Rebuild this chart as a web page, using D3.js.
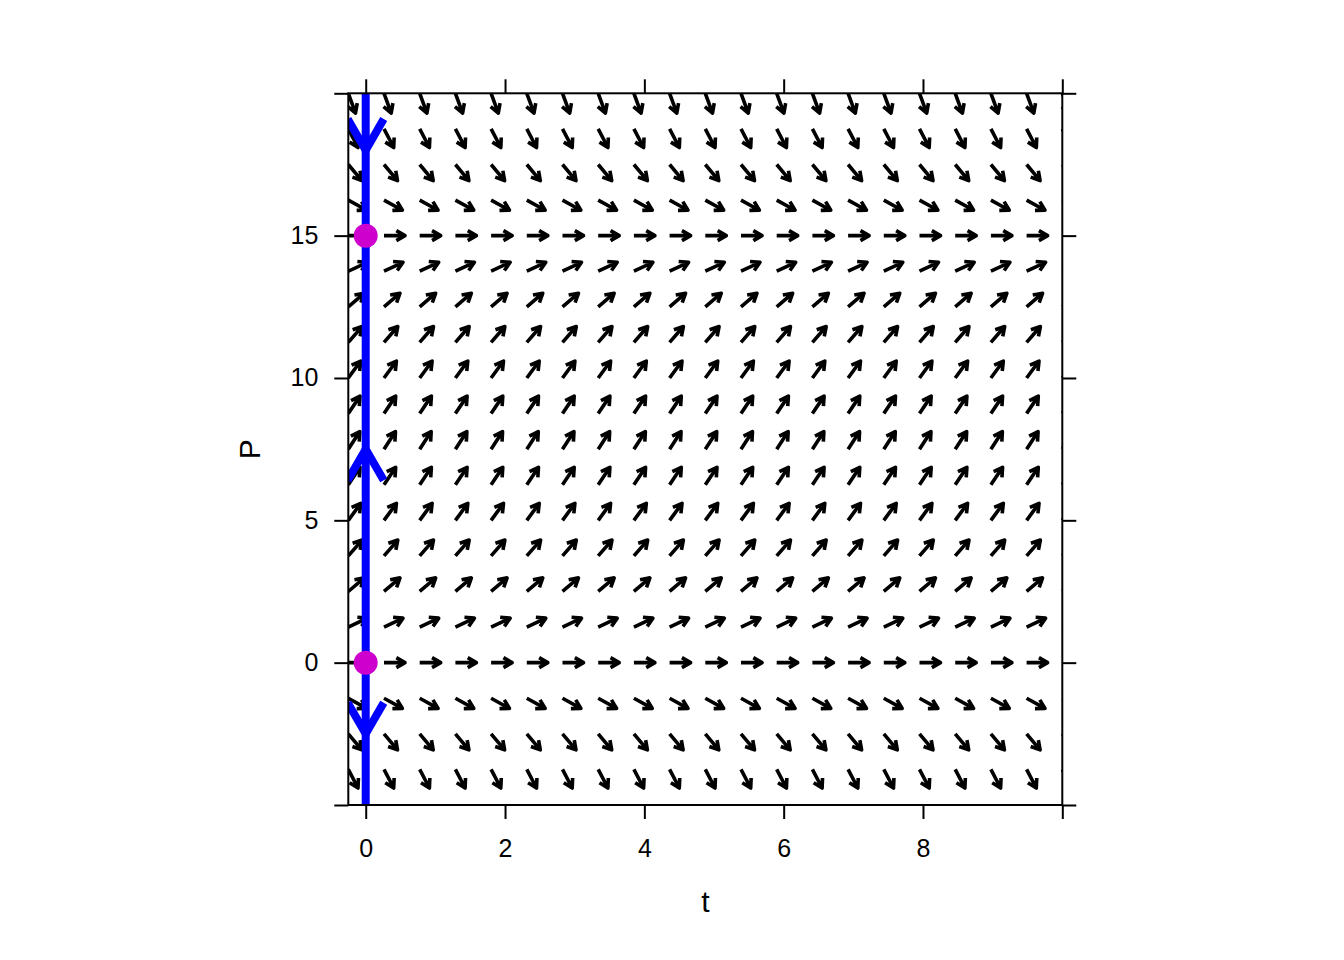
<!DOCTYPE html>
<html><head><meta charset="utf-8">
<script src="https://cdn.jsdelivr.net/npm/d3@7"></script>
<style>body{margin:0;background:#fff} svg{display:block}</style>
</head><body>
<svg id="chart" width="1344" height="960"></svg>
<script>
// grid of the direction field (t columns, P rows)
const tGrid = [-0.25, 0.2625, 0.775, 1.2875, 1.8, 2.3125, 2.825, 3.3375, 3.85, 4.3625, 4.875, 5.3875, 5.9, 6.4125, 6.925, 7.4375, 7.95, 8.4625, 8.975, 9.4875, 10];
const pGrid = [-5, -3.75, -2.5, -1.25, 0, 1.25, 2.5, 3.75, 5, 6.25, 7.5, 8.75, 10, 11.25, 12.5, 13.75, 15, 16.25, 17.5, 18.75, 20];
// dP/dt at each P row
const slopes = [-6.667, -4.688, -2.917, -1.354, 0, 1.146, 2.083, 2.813, 3.333, 3.646, 3.75, 3.646, 3.333, 2.813, 2.083, 1.146, 0, -1.354, -2.917, -4.688, -6.667];
// phase line
const equilibria = [0, 15];
const phaseArrowP = [18, 7.5, -2.5];
const phaseArrowDir = [-1, 1, -1];
// axes
const xTicks = [0, 2, 4, 6, 8, 10];
const xTickLabels = ["0", "2", "4", "6", "8", ""];
const yTicks = [-5, 0, 5, 10, 15, 20];
const yTickLabels = ["", "0", "5", "10", "15", ""];
const xDomain = [-0.25, 10];
const yDomain = [-5, 20];

const svg = d3.select("#chart");
const L = 348.3, R = 1062.3, T = 93.3, B = 805;
const x = d3.scaleLinear().domain(xDomain).range([L, R]);
const y = d3.scaleLinear().domain(yDomain).range([B, T]);
const font = "'Liberation Sans', Arial, sans-serif";

svg.append("defs").append("clipPath").attr("id", "clip")
  .append("rect").attr("x", L).attr("y", T).attr("width", R - L).attr("height", B - T);

const plot = svg.append("g").attr("clip-path", "url(#clip)");

// direction field arrows
const arrows = [];
pGrid.forEach((p, j) => tGrid.forEach(t => arrows.push({t, p, s: slopes[j]})));
const len = 21, head = 10, ang = Math.PI / 6;
plot.append("g").selectAll("path").data(arrows).join("path")
  .attr("d", d => {
    const x0 = x(d.t), y0 = y(d.p);
    const vx = x(d.t + 1) - x(d.t), vy = y(d.p + d.s) - y(d.p);
    const n = Math.hypot(vx, vy), ux = vx / n, uy = vy / n;
    const x1 = x0 + ux * len, y1 = y0 + uy * len;
    const a = Math.atan2(uy, ux);
    const ax1 = x1 - head * Math.cos(a - ang), ay1 = y1 - head * Math.sin(a - ang);
    const ax2 = x1 - head * Math.cos(a + ang), ay2 = y1 - head * Math.sin(a + ang);
    return `M${x0},${y0}L${x1},${y1}M${ax1},${ay1}L${x1},${y1}L${ax2},${ay2}`;
  })
  .attr("fill", "none").attr("stroke", "#000").attr("stroke-width", 3.6)
  .attr("stroke-linecap", "butt").attr("stroke-linejoin", "round");

// phase line
plot.append("line")
  .attr("x1", x(0)).attr("x2", x(0)).attr("y1", y(yDomain[0])).attr("y2", y(yDomain[1]))
  .attr("stroke", "#0000FF").attr("stroke-width", 8);
const bHead = 36;
plot.append("g").selectAll("path").data(phaseArrowP.map((p, i) => ({p, dir: phaseArrowDir[i]}))).join("path")
  .attr("d", d => {
    const tx = x(0), ty = y(d.p);
    const back = d.dir > 0 ? 1 : -1;
    const dxh = bHead * Math.sin(ang), dyh = bHead * Math.cos(ang) * back;
    return `M${tx - dxh},${ty + dyh}L${tx},${ty}L${tx + dxh},${ty + dyh}`;
  })
  .attr("fill", "none").attr("stroke", "#0000FF").attr("stroke-width", 8)
  .attr("stroke-linecap", "butt").attr("stroke-linejoin", "miter");

svg.append("g").selectAll("circle").data(equilibria).join("circle")
  .attr("cx", x(0)).attr("cy", d => y(d)).attr("r", 12).attr("fill", "#CD00CD");

// box
svg.append("rect").attr("x", L).attr("y", T).attr("width", R - L).attr("height", B - T)
  .attr("fill", "none").attr("stroke", "#000").attr("stroke-width", 2);

// axes
const tick = 14;
function styleAxis(g) {
  g.select(".domain").remove();
  g.selectAll(".tick line").attr("stroke", "#000").attr("stroke-width", 2);
  g.selectAll(".tick text").attr("fill", "#000").style("font-family", font).style("font-size", "25px");
}
svg.append("g").attr("transform", `translate(0,${B})`)
  .call(d3.axisBottom(x).tickValues(xTicks).tickSize(tick).tickPadding(20).tickFormat((d, i) => xTickLabels[i]))
  .call(styleAxis);
svg.append("g").attr("transform", `translate(0,${T})`)
  .call(d3.axisTop(x).tickValues(xTicks).tickSize(tick).tickFormat(""))
  .call(styleAxis);
svg.append("g").attr("transform", `translate(${L},0)`)
  .call(d3.axisLeft(y).tickValues(yTicks).tickSize(tick).tickPadding(16).tickFormat((d, i) => yTickLabels[i]))
  .call(styleAxis);
svg.append("g").attr("transform", `translate(${R},0)`)
  .call(d3.axisRight(y).tickValues(yTicks).tickSize(tick).tickFormat(""))
  .call(styleAxis);

// axis titles
svg.append("text").attr("x", (L + R) / 2).attr("y", 912).attr("text-anchor", "middle")
  .style("font-family", font).style("font-size", "30px").text("t");
svg.append("text").attr("transform", `translate(260,${(T + B) / 2}) rotate(-90)`).attr("text-anchor", "middle")
  .style("font-family", font).style("font-size", "30px").text("P");
</script>
</body></html>
